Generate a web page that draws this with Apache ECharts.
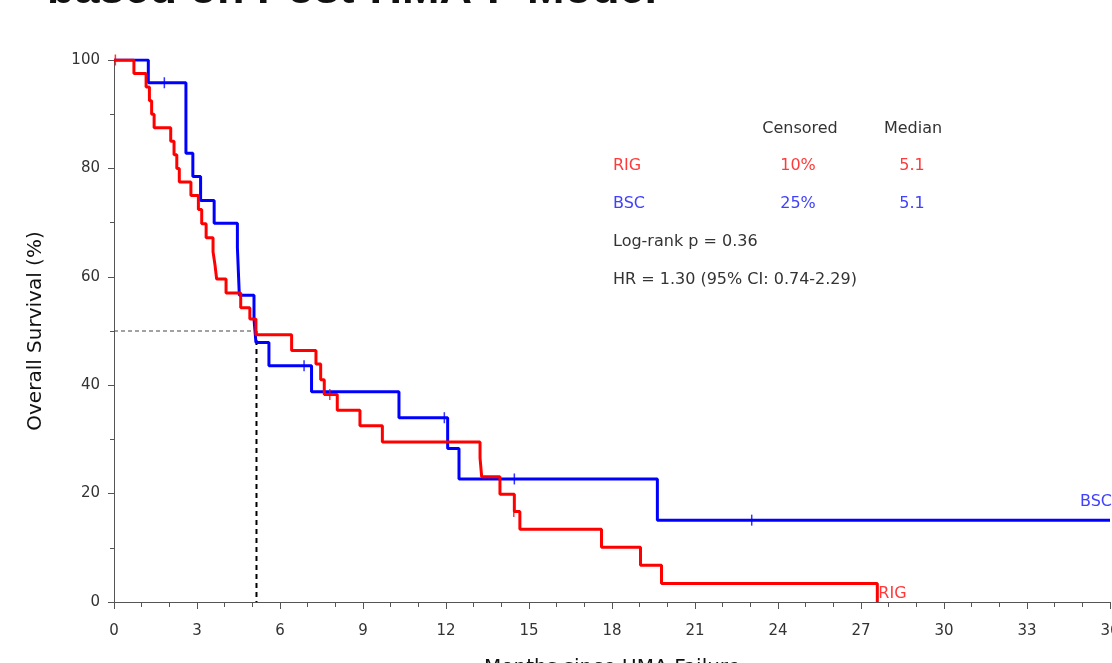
<!DOCTYPE html>
<html>
<head>
<meta charset="utf-8">
<script src="https://cdn.jsdelivr.net/npm/echarts@6/dist/echarts.min.js"></script>
<style>
  html, body { margin: 0; padding: 0; background: #fff; }
  #chart { width: 1112px; height: 663px; }
</style>
</head>
<body>
<div id="chart"></div>
<script>
// Kaplan-Meier steps (months, % surviving)
const rigTimes = [0, 0.72, 1.16, 1.28, 1.36, 1.45, 2.05, 2.17, 2.27, 2.36, 2.78, 3.05, 3.17, 3.33, 3.58, 3.65, 3.71, 4.05, 4.58, 4.91, 5.13, 6.42, 7.30, 7.47, 7.60, 8.07, 8.89, 9.70, 13.23, 13.29, 13.95, 14.47, 14.67, 17.62, 19.03, 19.79, 27.59];
const rigSurv  = [100, 97.5, 95.0, 92.5, 90.0, 87.5, 85.0, 82.5, 80.0, 77.5, 75.0, 72.4, 69.8, 67.2, 64.6, 62.2, 59.6, 57.0, 54.3, 52.2, 49.3, 46.4, 43.9, 41.0, 38.3, 35.4, 32.5, 29.5, 26.6, 23.1, 19.9, 16.7, 13.4, 10.1, 6.8, 3.4, 0];

const bscTimes = [0, 1.24, 2.60, 2.85, 3.13, 3.62, 4.46, 4.53, 5.06, 5.13, 5.60, 7.14, 10.30, 12.06, 12.47, 19.64, 36];
const bscSurv  = [100, 95.8, 82.8, 78.5, 74.1, 69.9, 65.4, 56.6, 52.2, 47.9, 43.6, 38.8, 34.0, 28.3, 22.7, 15.1, 15.1];

const rigCensorTimes = [0.05, 7.8, 14.45];
const rigCensorSurv  = [100, 38.3, 16.7];
const bscCensorTimes = [1.82, 6.87, 11.94, 14.47, 23.05];
const bscCensorSurv  = [95.8, 43.6, 34.0, 22.7, 15.1];

const medianMonths = 5.15;
const xTickStep = 3;
const xMax = 36;
const yTickStep = 20;

const tableHeader = ['Censored', 'Median'];
const tableRows = [
  ['RIG', '10%', '5.1'],
  ['BSC', '25%', '5.1']
];
const statLines = ['Log-rank p = 0.36', 'HR = 1.30 (95% CI: 0.74-2.29)'];

const RED = '#ff0000';
const BLUE = '#0000ff';
const RED_TXT = '#ff3a3a';
const BLUE_TXT = '#4040ff';
const FONT = 'DejaVu Sans';

const toPairs = (xs, ys) => xs.map((x, i) => [x, ys[i]]);

const chartDom = document.getElementById('chart');
const chart = echarts.init(chartDom);

const textStyleBase = { fontFamily: FONT, fontSize: 16, fill: '#333' };

const graphics = [
  {
    type: 'text', x: 47, y: 13,
    style: { text: 'based on Post-HMA-F Model', fontFamily: 'Liberation Sans', fontWeight: 'bold', fontSize: 45, fill: '#111', verticalAlign: 'bottom' }
  },
  { type: 'text', x: 800, y: 129, style: Object.assign({}, textStyleBase, { text: tableHeader[0], align: 'center', verticalAlign: 'middle' }) },
  { type: 'text', x: 913, y: 129, style: Object.assign({}, textStyleBase, { text: tableHeader[1], align: 'center', verticalAlign: 'middle' }) }
];
tableRows.forEach((row, i) => {
  const y = 166 + i * 38;
  const col = i === 0 ? RED_TXT : BLUE_TXT;
  graphics.push({ type: 'text', x: 613, y: y, style: Object.assign({}, textStyleBase, { text: row[0], fill: col, verticalAlign: 'middle' }) });
  graphics.push({ type: 'text', x: 798, y: y, style: Object.assign({}, textStyleBase, { text: row[1], fill: col, align: 'center', verticalAlign: 'middle' }) });
  graphics.push({ type: 'text', x: 912, y: y, style: Object.assign({}, textStyleBase, { text: row[2], fill: col, align: 'center', verticalAlign: 'middle' }) });
});
statLines.forEach((t, i) => {
  graphics.push({ type: 'text', x: 613, y: 242 + i * 38, style: Object.assign({}, textStyleBase, { text: t, verticalAlign: 'middle' }) });
});

const option = {
  animation: false,
  backgroundColor: '#fff',
  grid: { left: 114, right: 2, top: 60, bottom: 61, containLabel: false, outerBoundsMode: 'none' },
  xAxis: {
    type: 'value',
    min: 0,
    max: xMax,
    interval: xTickStep,
    offset: 4,
    name: 'Months since HMA Failure',
    nameLocation: 'middle',
    nameGap: 52,
    nameTextStyle: { fontFamily: FONT, fontSize: 20, color: '#111' },
    axisLine: { show: true, lineStyle: { color: '#555', width: 1 } },
    axisTick: { show: true, length: 7, lineStyle: { color: '#555' } },
    minorTick: { show: true, splitNumber: 3, length: 5, lineStyle: { color: '#555' } },
    splitLine: { show: false },
    axisLabel: { margin: 18, fontFamily: FONT, fontSize: 15, color: '#333' }
  },
  yAxis: {
    type: 'value',
    min: 0,
    max: 100,
    interval: yTickStep,
    offset: 4,
    name: 'Overall Survival (%)',
    nameLocation: 'middle',
    nameGap: 64,
    nameRotate: 90,
    nameTextStyle: { fontFamily: FONT, fontSize: 20, color: '#111' },
    axisLine: { show: true, lineStyle: { color: '#555', width: 1 } },
    axisTick: { show: true, length: 6, lineStyle: { color: '#555' } },
    minorTick: { show: true, splitNumber: 2, length: 4, lineStyle: { color: '#555' } },
    splitLine: { show: false },
    axisLabel: { margin: 10, fontFamily: FONT, fontSize: 15, color: '#333' }
  },
  graphic: graphics,
  series: [
    {
      name: 'median-h',
      type: 'line',
      data: [[0, 50], [medianMonths, 50]],
      showSymbol: false,
      silent: true,
      lineStyle: { color: '#444', width: 1, type: [4, 3] },
      z: 1
    },
    {
      name: 'median-v',
      type: 'line',
      data: [[medianMonths, 50], [medianMonths, 0]],
      showSymbol: false,
      silent: true,
      lineStyle: { color: '#000', width: 2, type: [5, 4] },
      z: 1
    },
    {
      name: 'BSC',
      type: 'line',
      step: 'end',
      data: toPairs(bscTimes, bscSurv),
      showSymbol: false,
      lineStyle: { color: BLUE, width: 3 },
      itemStyle: { color: BLUE },
      z: 3
    },
    {
      name: 'RIG',
      type: 'line',
      step: 'end',
      data: toPairs(rigTimes, rigSurv),
      showSymbol: false,
      lineStyle: { color: RED, width: 3 },
      itemStyle: { color: RED },
      z: 4
    },
    {
      name: 'BSC censored',
      type: 'scatter',
      data: toPairs(bscCensorTimes, bscCensorSurv),
      symbol: 'rect',
      symbolSize: [1.5, 11],
      itemStyle: { color: BLUE },
      z: 5
    },
    {
      name: 'RIG censored',
      type: 'scatter',
      data: toPairs(rigCensorTimes, rigCensorSurv),
      symbol: 'rect',
      symbolSize: [1.5, 11],
      itemStyle: { color: RED },
      z: 5
    }
  ]
};

chart.setOption(option);

// curve end labels placed through the axes
const rigEnd = chart.convertToPixel({ gridIndex: 0 }, [rigTimes[rigTimes.length - 1], rigSurv[rigSurv.length - 1]]);
const bscEnd = chart.convertToPixel({ gridIndex: 0 }, [bscTimes[bscTimes.length - 1], bscSurv[bscSurv.length - 1]]);
graphics.push({ type: 'text', x: rigEnd[0] + 1, y: rigEnd[1] - 8, style: Object.assign({}, textStyleBase, { text: 'RIG', fill: RED_TXT, verticalAlign: 'middle' }) });
graphics.push({ type: 'text', x: bscEnd[0] + 2, y: bscEnd[1] - 18, style: Object.assign({}, textStyleBase, { text: 'BSC', fill: BLUE_TXT, align: 'right', verticalAlign: 'middle' }) });
chart.setOption({ graphic: graphics });
</script>
</body>
</html>
